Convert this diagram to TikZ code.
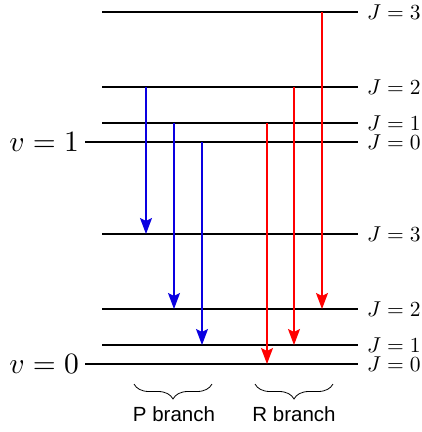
\documentclass[tikz,border=0pt]{standalone}
\usepackage{graphicx}
\usepackage{fontspec}
\newfontfamily\branchfont{Liberation Sans}
\usetikzlibrary{arrows.meta,decorations.pathreplacing}
\definecolor{pblue}{RGB}{10,0,225}
\definecolor{rred}{RGB}{255,0,0}
\newcommand{\jtext}[1]{\scalebox{2.15}{$#1$}}
\newcommand{\vtext}[1]{\scalebox{2.95}{$#1$}}
\tikzset{
  level/.style={line width=1.2pt, black},
  trans/.style={line width=1.2pt, -{Stealth[length=16pt,width=12pt,inset=3pt]}},
  jlab/.style={anchor=west, inner sep=0pt},
  vlab/.style={anchor=east, inner sep=0pt},
  bracestyle/.style={line width=0.8pt, decorate, decoration={brace, amplitude=15pt, mirror}},
  blab/.style={inner sep=0pt, font=\branchfont\fontsize{20.5}{24}\selectfont}
}
\begin{document}
\begin{tikzpicture}[x=1pt, y=-1pt]
\useasboundingbox (0,0) rectangle (422,432);
% upper vibrational level v=1
\coordinate (u3l) at (102,12);  \coordinate (u3r) at (358,12);
\coordinate (u2l) at (102,87);  \coordinate (u2r) at (358,87);
\coordinate (u1l) at (102,123); \coordinate (u1r) at (358,123);
\coordinate (u0l) at (85,142);  \coordinate (u0r) at (358,142);
% lower vibrational level v=0
\coordinate (l3l) at (102,234); \coordinate (l3r) at (358,234);
\coordinate (l2l) at (102,309); \coordinate (l2r) at (358,309);
\coordinate (l1l) at (102,345); \coordinate (l1r) at (358,345);
\coordinate (l0l) at (85,364);  \coordinate (l0r) at (358,364);
\foreach \n in {u3,u2,u1,u0,l3,l2,l1,l0} \draw[level] (\n l) -- (\n r);
% labels
\node[jlab] (ju3) at (367,12)  {\jtext{J=3}};
\node[jlab] (ju2) at (367,87)  {\jtext{J=2}};
\node[jlab] (ju1) at (367,123) {\jtext{J=1}};
\node[jlab] (ju0) at (367,142) {\jtext{J=0}};
\node[jlab] (jl3) at (367,234) {\jtext{J=3}};
\node[jlab] (jl2) at (367,309) {\jtext{J=2}};
\node[jlab] (jl1) at (367,345) {\jtext{J=1}};
\node[jlab] (jl0) at (367,364) {\jtext{J=0}};
\node[vlab] (v1) at (79,142) {\vtext{v=1}};
\node[vlab] (v0) at (79,364) {\vtext{v=0}};
% P branch
\coordinate (pa) at (146,87);  \coordinate (pa') at (146,234);
\coordinate (pb) at (174,123); \coordinate (pb') at (174,309);
\coordinate (pc) at (202,142); \coordinate (pc') at (202,345);
\draw[trans, pblue] (pa) -- (pa');
\draw[trans, pblue] (pb) -- (pb');
\draw[trans, pblue] (pc) -- (pc');
% R branch
\coordinate (ra) at (267,123); \coordinate (ra') at (267,364);
\coordinate (rb) at (294,87);  \coordinate (rb') at (294,345);
\coordinate (rc) at (322,12);  \coordinate (rc') at (322,309);
\draw[trans, rred] (ra) -- (ra');
\draw[trans, rred] (rb) -- (rb');
\draw[trans, rred] (rc) -- (rc');
% braces
\coordinate (pbl) at (134,384); \coordinate (pbr) at (212,384);
\coordinate (rbl) at (255,384); \coordinate (rbr) at (333,384);
\draw[bracestyle] (pbl) -- (pbr);
\draw[bracestyle] (rbl) -- (rbr);
\node[blab] (pt) at (174,414) {P branch};
\node[blab] (rt) at (294,414) {R branch};
\end{tikzpicture}
\end{document}
